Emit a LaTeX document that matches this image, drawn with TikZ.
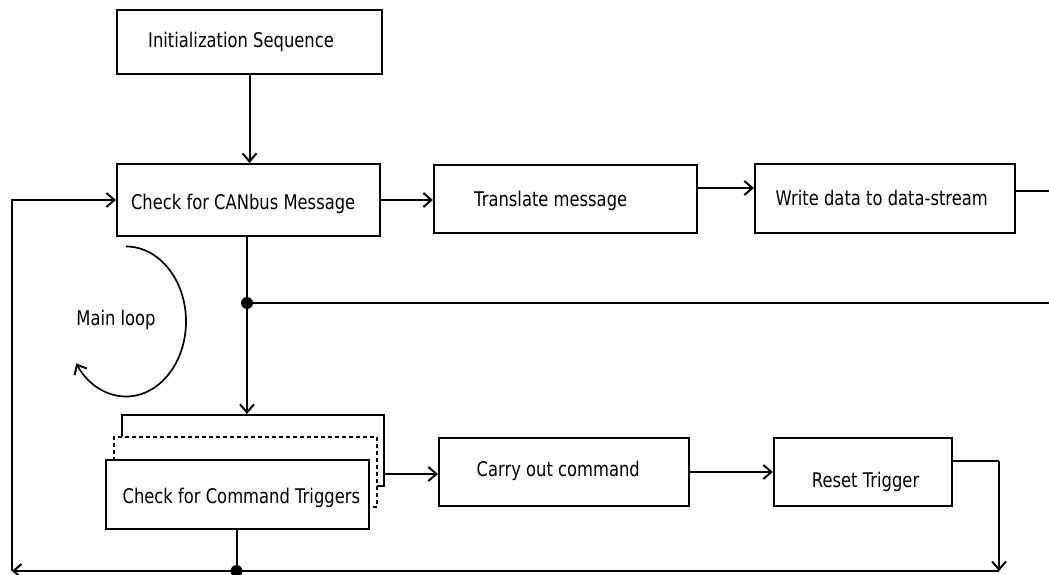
\documentclass[tikz,border=0pt]{standalone}
\usepackage{fontspec}
\setmainfont{DejaVu Sans}[FakeStretch=0.81]
\usetikzlibrary{arrows.meta,calc}

\begin{document}
\begin{tikzpicture}[x=1pt,y=1pt,
  box/.style={draw, line width=2.2pt, fill=white, inner sep=0pt},
  dashbox/.style={box, line width=2pt, dash pattern=on 4pt off 3pt},
  lbl/.style={anchor=base west, inner sep=0pt, font=\fontsize{20.2}{24}\selectfont},
  wire/.style={line width=2pt},
  arr/.style={wire, -{Straight Barb[length=8pt,width=14pt,line width=2pt]}},
  dot/.style={circle, fill=black, inner sep=0pt, minimum size=12pt}]
\useasboundingbox (0,0) rectangle (1049,-575);

% top row of steps
\node[box, minimum width=265pt, minimum height=64pt] (init)  at (249.5,-42)  {};
\node[box, minimum width=263pt, minimum height=72pt] (can)   at (248.5,-200) {};
\node[box, minimum width=263pt, minimum height=68pt] (trans) at (565.5,-199) {};
\node[box, minimum width=260pt, minimum height=69pt] (write) at (885,-198.5) {};

\node[lbl] (initT)  at (148,-47.7)  {Initialization Sequence};
\node[lbl] (canT)   at (130.8,-209) {Check for CANbus Message};
\node[lbl] (transT) at (474,-206)   {Translate message};
\node[lbl] (writeT) at (775.5,-205.3) {Write data to data-stream};

% stacked trigger boxes
\node[box, minimum width=262pt, minimum height=71pt] (cmdB) at (253,-450.5) {};
\node[dashbox, minimum width=263pt, minimum height=70pt] (cmdD) at (245.5,-472) {};
\node[box, minimum width=263pt, minimum height=69pt] (cmd) at (237.5,-494.5) {};
\node[lbl] (cmdT) at (122.4,-503.3) {Check for Command Triggers};

% bottom row of steps
\node[box, minimum width=250pt, minimum height=68pt] (carry) at (564,-472) {};
\node[box, minimum width=178pt, minimum height=68pt] (reset) at (863,-472) {};
\node[lbl] (carryT) at (476.5,-476.7) {Carry out command};
\node[lbl] (resetT) at (811.7,-487.3) {Reset Trigger};

% loop label and circular arrow
\node[lbl] (loopT) at (76.2,-325) {Main loop};
\draw[arr, line width=1.7pt] (126,-246.5) arc[start angle=90, end angle=-146, x radius=60, y radius=75];

% junctions and free ends
\coordinate (tap)    at (247,-303);
\coordinate (tapEnd) at (1049,-303);
\coordinate (wEnd)   at (1049,-190.7);
\coordinate (rTurn)  at (999,-461);
\coordinate (bR)     at (999,-571);
\coordinate (bL)     at (12,-571);
\coordinate (bTap)   at (236.5,-571);

% connectors
\draw[arr] (init.south) -- (init.south |- can.north);
\draw[arr] (can.east) -- (can.east -| trans.west);
\draw[arr] (trans.east |- 0,-188) -- (write.west |- 0,-188);
\draw[wire] (write.east |- wEnd) -- (wEnd);

\draw[arr] (can.south -| tap) -- (tap |- cmdB.north);
\draw[wire] (tap) -- (tapEnd);
\node[dot] (tapDot) at (tap) {};

\draw[arr] (cmdB.east |- 0,-474) -- (carry.west |- 0,-474);
\draw[arr] (carry.east) -- (reset.west);
\draw[wire] (reset.east |- rTurn) -- (rTurn);
\draw[arr] (rTurn) -- (bR);

\draw[wire] (cmd.south -| bTap) -- (bTap);
\draw[wire] (bTap) -- (bR);
\draw[arr] (bTap) -- (bL);
\draw[arr] (bL) |- (can.west);
\node[dot] (bDot) at (bTap) {};
\end{tikzpicture}
\end{document}
